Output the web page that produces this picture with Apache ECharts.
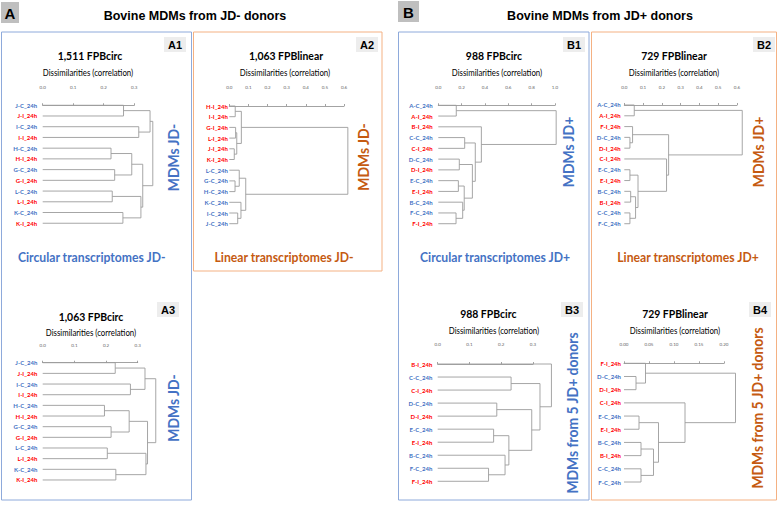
<!DOCTYPE html>
<html><head><meta charset="utf-8">
<script src="https://cdn.jsdelivr.net/npm/echarts/dist/echarts.min.js"></script>
<style>html,body{margin:0;padding:0;background:#fff}#c{width:779px;height:505px}</style>
</head><body><div id="c"></div>
<script>
// ---------- DATA ----------
// leaves (top to bottom) and merges [childA, childB, dissimilarity]; node ids >= n refer to earlier merges
const a1Leaves = ['J-C_24h','J-I_24h','I-C_24h','I-I_24h','H-C_24h','H-I_24h','G-C_24h','G-I_24h','L-C_24h','L-I_24h','K-C_24h','K-I_24h'];
const a1Merges = [[0,1,0.265],[2,3,0.315],[4,5,0.224],[6,7,0.236],[8,9,0.228],[10,11,0.263],[12,13,0.352],[14,15,0.292],[16,17,0.322],[19,20,0.328],[18,21,0.361]];
const a1Ticks = [0,0.1,0.2,0.3];

const a2Leaves = ['H-I_24h','I-I_24h','G-I_24h','L-I_24h','J-I_24h','K-I_24h','L-C_24h','G-C_24h','H-C_24h','K-C_24h','I-C_24h','J-C_24h'];
const a2Merges = [[0,1,0.031],[2,3,0.033],[4,5,0.026],[13,14,0.039],[12,15,0.063],[7,8,0.030],[6,17,0.052],[10,11,0.044],[9,19,0.061],[18,20,0.086],[16,21,0.62]];
const a2Ticks = [0,0.1,0.2,0.3,0.4,0.5,0.6];

const a3Leaves = ['J-C_24h','J-I_24h','I-C_24h','I-I_24h','H-C_24h','H-I_24h','G-C_24h','G-I_24h','L-C_24h','L-I_24h','K-C_24h','K-I_24h'];
const a3Merges = [[0,1,0.229],[2,3,0.277],[4,5,0.195],[6,7,0.216],[8,9,0.204],[10,11,0.231],[12,13,0.323],[14,15,0.273],[16,17,0.326],[19,20,0.331],[18,21,0.357]];
const a3Ticks = [0,0.1,0.2,0.3];

const b1Leaves = ['A-C_24h','A-I_24h','B-I_24h','C-C_24h','C-I_24h','D-C_24h','D-I_24h','E-C_24h','E-I_24h','B-C_24h','F-C_24h','F-I_24h'];
const b1Merges = [[0,1,0.154],[3,4,0.226],[5,6,0.180],[7,8,0.172],[10,11,0.152],[9,16,0.209],[15,17,0.222],[14,18,0.292],[13,19,0.317],[2,20,0.369],[12,21,1.01]];
const b1Ticks = [0,0.2,0.4,0.6,0.8,1.0];

const b2Leaves = ['A-C_24h','A-I_24h','F-I_24h','D-C_24h','D-I_24h','C-I_24h','E-C_24h','E-I_24h','B-C_24h','B-I_24h','C-C_24h','F-C_24h'];
const b2Merges = [[0,1,0.053],[3,4,0.030],[2,13,0.044],[6,7,0.030],[8,9,0.034],[10,11,0.030],[16,17,0.060],[15,18,0.073],[5,19,0.225],[14,20,0.236],[12,21,0.628]];
const b2Ticks = [0,0.1,0.2,0.3,0.4,0.5,0.6];

const b3Leaves = ['B-I_24h','C-C_24h','C-I_24h','D-C_24h','D-I_24h','E-C_24h','E-I_24h','B-C_24h','F-C_24h','F-I_24h'];
const b3Merges = [[1,2,0.231],[3,4,0.186],[5,6,0.176],[8,9,0.160],[7,13,0.212],[12,14,0.224],[11,15,0.296],[10,16,0.322],[0,17,0.358]];
const b3Ticks = [0,0.1,0.2,0.3];

const b4Leaves = ['F-I_24h','D-C_24h','D-I_24h','C-I_24h','E-C_24h','E-I_24h','B-C_24h','B-I_24h','C-C_24h','F-C_24h'];
const b4Merges = [[1,2,0.024],[0,10,0.043],[4,5,0.030],[6,7,0.034],[8,9,0.034],[13,14,0.059],[12,15,0.069],[3,16,0.122],[11,17,0.223]];
const b4Ticks = [0,0.05,0.10,0.15,0.20];

// ---------- STYLE / LAYOUT ----------
const CAL = 'Lato, "Open Sans", sans-serif';
const ARI = '"Liberation Sans", Arial, sans-serif';
const BLUE = '#4472C4', RED = '#FF0000', ORANGE = '#C55A11';
const BLUE_BORDER = '#8EAADB', ORANGE_BORDER = '#F4B183';
const LINE = '#9C9C9C';

const grids = [], xAxis = [], yAxis = [], series = [];
function addPanel(leaves, merges, ticks, c) {
  const gi = grids.length;
  const max = ticks[ticks.length - 1];
  const step = ticks[1] - ticks[0];
  grids.push({left: c.left, top: c.top, width: max * c.ppu, height: c.h});
  xAxis.push({
    type: 'value', gridIndex: gi, position: 'top', min: 0, max: max, interval: step, offset: c.off,
    axisLine: {show: true, lineStyle: {color: '#8c8c8c', width: 0.8}},
    axisTick: {show: true, length: 2, lineStyle: {color: '#8c8c8c', width: 0.8}},
    axisLabel: {fontSize: 4.5, color: '#666', margin: 2.5, fontFamily: CAL, formatter: v => v.toFixed(c.dec)},
    splitLine: {show: false}
  });
  const yc = yAxis.length;
  yAxis.push({
    type: 'category', gridIndex: gi, data: leaves, inverse: true,
    axisLine: {show: false}, axisTick: {show: false}, splitLine: {show: false},
    axisLabel: {fontSize: 6, fontWeight: 'bold', fontFamily: CAL, margin: c.lm, interval: 0,
      color: v => (v.indexOf('-I_') >= 0 ? RED : BLUE)}
  });
  yAxis.push({type: 'value', gridIndex: gi, min: -0.5, max: leaves.length - 0.5, inverse: true, show: false, splitLine: {show: false}});
  const nodes = leaves.map((l, i) => ({h: 0, y: i}));
  const segs = [];
  merges.forEach(m => {
    const A = nodes[m[0]], B = nodes[m[1]];
    segs.push([A.h, A.y, B.h, B.y, m[2]]);
    nodes.push({h: m[2], y: (A.y + B.y) / 2});
  });
  series.push({
    type: 'custom', xAxisIndex: gi, yAxisIndex: yc + 1, data: segs, silent: true, clip: false,
    encode: {x: [0, 2, 4], y: [1, 3]},
    renderItem: (params, api) => {
      const p1 = api.coord([api.value(0), api.value(1)]);
      const p2 = api.coord([api.value(4), api.value(1)]);
      const p3 = api.coord([api.value(4), api.value(3)]);
      const p4 = api.coord([api.value(2), api.value(3)]);
      return {type: 'polyline', shape: {points: [p1, p2, p3, p4]}, style: {stroke: LINE, lineWidth: 0.9, fill: null}};
    }
  });
}

addPanel(a1Leaves, a1Merges, a1Ticks, {left: 42.7, top: 99.9, h: 128.7, ppu: 305, dec: 1, off: 7.6, lm: 5.5});
addPanel(a2Leaves, a2Merges, a2Ticks, {left: 229.3, top: 100.65, h: 128.4, ppu: 191.2, dec: 1, off: 8.3, lm: 1.5});
addPanel(a3Leaves, a3Merges, a3Ticks, {left: 42.7, top: 357.4, h: 127.9, ppu: 316.7, dec: 1, off: 7.4, lm: 5.4});
addPanel(b1Leaves, b1Merges, b1Ticks, {left: 438.3, top: 99.9, h: 129.2, ppu: 116.7, dec: 1, off: 7.6, lm: 5.6});
addPanel(b2Leaves, b2Merges, b2Ticks, {left: 624.3, top: 99.6, h: 129.5, ppu: 187.8, dec: 1, off: 7.3, lm: 3.6});
addPanel(b3Leaves, b3Merges, b3Ticks, {left: 437.7, top: 357.5, h: 130.3, ppu: 317.7, dec: 1, off: 8.2, lm: 5.4});
addPanel(b4Leaves, b4Merges, b4Ticks, {left: 624, top: 356.7, h: 131.9, ppu: 500, dec: 2, off: 7.4, lm: 3});

// ---------- DECORATION ----------
const g = [];
function rect(x, y, w, h, stroke, fill) {
  g.push({type: 'rect', shape: {x, y, width: w, height: h}, style: {stroke: stroke || null, fill: fill || null, lineWidth: 1}, silent: true, z: 0});
}
function text(x, y, t, font, color, opt) {
  opt = opt || {};
  g.push({type: 'text', x, y, rotation: opt.rot || 0, scaleX: opt.sx || 1, silent: true, z: 5,
    style: {text: t, font: font, fill: color, textAlign: 'center', textVerticalAlign: 'middle'}});
}
// panel frames
rect(1.5, 32, 190, 468, BLUE_BORDER);
rect(193.5, 32, 188.5, 239, ORANGE_BORDER);
rect(398.5, 32, 190.5, 468, BLUE_BORDER);
rect(591.5, 32, 185, 468, ORANGE_BORDER);
// headers
rect(1, 2, 18, 21, null, '#BFBFBF');
text(10, 13, 'A', 'bold 15px ' + ARI, '#000');
text(195, 16, 'Bovine MDMs from JD- donors', 'bold 12.5px ' + ARI, '#000');
rect(398, 1, 21, 21, null, '#BFBFBF');
text(408.5, 12, 'B', 'bold 15px ' + ARI, '#000');
text(600, 16, 'Bovine MDMs from JD+ donors', 'bold 12.5px ' + ARI, '#000');
// panel tags
[[164, 37, 'A1'], [356, 37, 'A2'], [157, 302, 'A3'], [563, 37, 'B1'], [753, 37, 'B2'], [561, 302, 'B3'], [749, 302, 'B4']].forEach(p => {
  rect(p[0], p[1], 22, 15, null, '#EDEDED');
  text(p[0] + 11, p[1] + 7.5, p[2], 'bold 11px ' + ARI, '#000');
});
// titles
const TF = 'bold 12px ' + CAL, DF = '9px ' + CAL;
[[90, 55, '1,511 FPBcirc'], [286, 55, '1,063 FPBlinear'], [91, 315.7, '1,063 FPBcirc'], [494, 55, '988 FPBcirc'],
 [674, 55, '729 FPBlinear'], [488.3, 312.7, '988 FPBcirc'], [675, 312.7, '729 FPBlinear']].forEach(p => text(p[0], p[1], p[2], TF, '#000', {sx: 0.87}));
[[88, 72.7], [285, 72.7], [91, 332.3], [497, 72.7], [674, 72.7], [494, 330.7], [675, 330.7]].forEach(p => text(p[0], p[1], 'Dissimilarities (correlation)', DF, '#000', {sx: 0.87}));
// side labels
const SF = 'bold 16px ' + CAL, R = Math.PI / 2;
text(173, 157.5, 'MDMs JD-', SF, BLUE, {rot: R, sx: 0.87});
text(363, 157, 'MDMs JD-', SF, ORANGE, {rot: R, sx: 0.87});
text(173, 408, 'MDMs JD-', SF, BLUE, {rot: R, sx: 0.87});
text(568, 152, 'MDMs JD+', SF, BLUE, {rot: R, sx: 0.87});
text(758, 152, 'MDMs JD+', SF, ORANGE, {rot: R, sx: 0.87});
text(571.7, 413, 'MDMs from 5 JD+ donors', SF, BLUE, {rot: R, sx: 0.87});
text(756.7, 408, 'MDMs from 5 JD+ donors', SF, ORANGE, {rot: R, sx: 0.87});
// bottom labels
const BF = 'bold 14px ' + CAL;
text(91.7, 256.7, 'Circular transcriptomes JD-', BF, BLUE, {sx: 0.87});
text(284, 256.7, 'Linear transcriptomes JD-', BF, ORANGE, {sx: 0.87});
text(495, 256.7, 'Circular transcriptomes JD+', BF, BLUE, {sx: 0.87});
text(688, 256.7, 'Linear transcriptomes JD+', BF, ORANGE, {sx: 0.87});

const chart = echarts.init(document.getElementById('c'), null, {renderer: 'svg'});
chart.setOption({
  animation: false,
  backgroundColor: '#fff',
  grid: grids, xAxis: xAxis, yAxis: yAxis, series: series,
  graphic: {elements: g}
});
</script></body></html>
